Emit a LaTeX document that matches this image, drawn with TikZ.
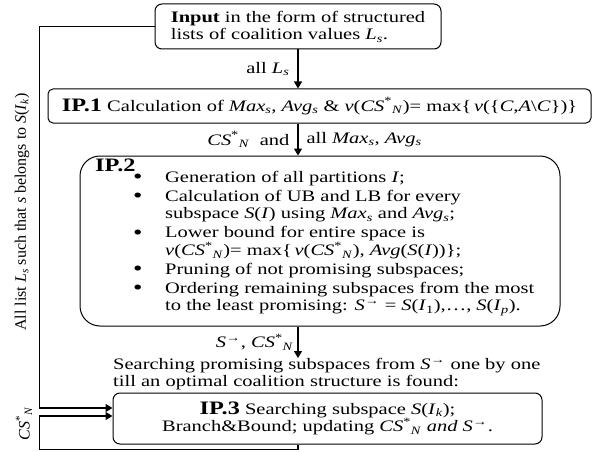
\documentclass[tikz,border=0pt]{standalone}
\usepackage{fontspec}
\setmainfont{Liberation Serif}[FakeStretch=1.28]
\newfontfamily\sidefont{Liberation Serif}
\usetikzlibrary{arrows.meta,calc,positioning}
\newcommand{\Ls}{\textit{L}\textsubscript{\textit{s}}}
\newcommand{\Maxs}{\textit{Max}\textsubscript{\textit{s}}}
\newcommand{\Avgs}{\textit{Avg}\textsubscript{\textit{s}}}
\newcommand{\csn}{\textit{CS}\textsuperscript{*}\textsubscript{\textit{N}}}
\newcommand{\Sarr}{\textit{S}\textsuperscript{→}}
\newcommand{\SI}{\textit{S}(\textit{I})}
\newcommand{\SIk}{\textit{S}(\textit{I}\textsubscript{\textit{k}})}
\newcommand{\ttl}[1]{{\fontsize{19}{19}\selectfont\textbf{#1}}}
\newcommand{\itm}{\makebox[32pt][l]{\raisebox{-1.5pt}{\fontsize{21}{21}\selectfont\textbullet}}}
\newcommand{\cnt}{\hspace*{32pt}}

\begin{document}
\begin{tikzpicture}[x=1pt,y=-1pt,
  every node/.style={font=\fontsize{16}{17.5}\selectfont},
  box/.style={draw,line width=1pt,rounded corners=7pt,inner sep=0pt},
  arr/.style={line width=1.1pt,-{Triangle[length=7pt,width=8pt]}},
  lbl/.style={inner sep=0pt}]
  \useasboundingbox (0,0) rectangle (592,452);
  % boxes
  \node[box,minimum width=286,minimum height=45,align=left] (input) at (298,26.5)
    {\textbf{Input} in the form of structured\\lists of coalition values \Ls.};
  \node[box,minimum width=543,minimum height=34,rounded corners=5pt] (ip1) at (319.5,106)
    {\ttl{IP.1} Calculation of \Maxs, \Avgs\ \& \textit{v}(\csn)= max\{\,\textit{v}(\{\textit{C},\textit{A}\textbackslash\textit{C}\})\}};
  \node[box,minimum width=480,minimum height=170,rounded corners=20pt] (ip2) at (320,241) {};
  \node[lbl,anchor=base west] (ip2ttl) at (95,171) {\ttl{IP.2}};
  \node[lbl,anchor=north west,align=left] (ip2list) at (133,171)
    {\itm Generation of all partitions \textit{I};\\[1.5pt]
     \itm Calculation of UB and LB for every\\
     \cnt subspace \SI\ using \Maxs\ and \Avgs;\\[1.5pt]
     \itm Lower bound for entire space is\\
     \cnt \textit{v}(\csn)= max\{\,\textit{v}(\csn), \textit{Avg}(\SI)\};\\[1.5pt]
     \itm Pruning of not promising subspaces;\\[1.5pt]
     \itm Ordering remaining subspaces from the most\\
     \cnt to the least promising: \Sarr\ = \textit{S}(\textit{I}\textsubscript{1}),\ldots, \textit{S}(\textit{I}\textsubscript{\textit{p}}).};
  \node[lbl,anchor=north west,align=left] (search) at (113,358)
    {Searching promising subspaces from \Sarr\ one by one\\
     till an optimal coalition structure is found:};
  \node[box,minimum width=429,minimum height=51,align=center] (ip3) at (327.5,418.5)
    {\ttl{IP.3} Searching subspace \SIk;\\Branch\&Bound; updating \csn\ \textit{and} \Sarr.};
  % side labels
  \node[lbl,rotate=90,font=\sidefont\fontsize{16}{17.5}\selectfont] (loopnote) at (22,212)
    {All list \Ls\ such that \textit{s} belongs to \SIk};
  \node[lbl,rotate=90,font=\sidefont\fontsize{16}{17.5}\selectfont] (csnote) at (24,424) {\csn};
  % connectors
  \draw[arr] (input.south) -- node[lbl,left=8pt] (lblls) {all \Ls} (input.south |- ip1.north);
  \draw[arr] (input.south |- ip1.south) -- node[lbl,left=8pt] (lblcs) {\csn\ \ and}
    node[lbl,right=8pt] (lblmax) {all \Maxs, \Avgs} (input.south |- ip2.north);
  \draw[arr] (input.south |- ip2.south) -- node[lbl,left=4pt] (lblsarr) {\Sarr, \csn} (input.south |- search.north);
  \draw[arr] (input.west) -| ($(ip3.west)+(-73,-10.5)$) -- ($(ip3.west)+(0,-10.5)$);
  \draw[arr] (input.south |- ip3.south) -- ++(0,5) -| ($(ip3.west)+(-73,-2.5)$) -- ($(ip3.west)+(0,-2.5)$);
\end{tikzpicture}
\end{document}
